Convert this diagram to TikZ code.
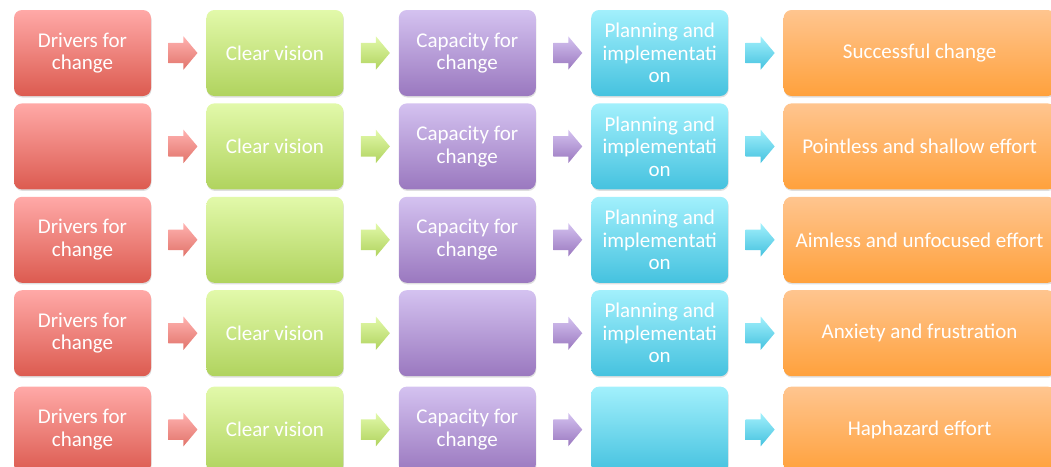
\documentclass[tikz,border=0pt]{standalone}
\usepackage{fontspec}
\setmainfont{Carlito}
\usetikzlibrary{shapes.arrows, positioning, calc, shadows}

\definecolor{drvTop}{HTML}{FFA9A7}
\definecolor{drvBot}{HTML}{DC5B50}
\definecolor{visTop}{HTML}{E2F9AA}
\definecolor{visBot}{HTML}{B0D35E}
\definecolor{capTop}{HTML}{D4C2F0}
\definecolor{capBot}{HTML}{9A78BF}
\definecolor{plnTop}{HTML}{A2F0FC}
\definecolor{plnBot}{HTML}{45C2DF}
\definecolor{resTop}{HTML}{FFC58F}
\definecolor{resBot}{HTML}{FFA13C}

\begin{document}
\begin{tikzpicture}[
      node distance=7pt and 55pt,
      box/.style={
          rectangle,
          rounded corners=8pt,
          align=center,
          minimum width=137pt,
          minimum height=86pt,
          inner sep=2pt,
          text=white,
          font=\fontsize{21}{22.5}\selectfont,
          drop shadow={opacity=0.25, shadow xshift=0.5pt, shadow yshift=-1.5pt}
        },
      drvbox/.style={box, top color=drvTop, bottom color=drvBot},
      visbox/.style={box, top color=visTop, bottom color=visBot},
      capbox/.style={box, top color=capTop, bottom color=capBot},
      plnbox/.style={box, top color=plnTop, bottom color=plnBot},
      resbox/.style={box, minimum width=272pt, top color=resTop, bottom color=resBot},
      arr/.style={
          single arrow,
          minimum height=29pt,
          inner xsep=0pt,
          inner ysep=10pt,
          single arrow head extend=6.5pt,
          single arrow tip angle=100
        },
      arrDrv/.style={arr, top color=drvTop!90!white, bottom color=drvBot!85!white},
      arrVis/.style={arr, top color=visTop, bottom color=visBot},
      arrCap/.style={arr, top color=capTop, bottom color=capBot},
      arrPln/.style={arr, top color=plnTop, bottom color=plnBot}
    ]
    \useasboundingbox (0,0) rectangle (1051pt,-466pt);

    % Row 1
    \node[drvbox] (d1) at (82.5pt,-53pt) {Drivers for\\change};
    \node[visbox, right=of d1] (v1) {Clear vision};
    \node[capbox, right=of v1] (c1) {Capacity for\\change};
    \node[plnbox, right=of c1] (p1) {Planning and\\implementati\\on};
    \node[resbox, right=of p1] (r1) {Successful change};

    % Row 2
    \node[drvbox, below=of d1] (d2) {};
    \node[visbox, right=of d2] (v2) {Clear vision};
    \node[capbox, right=of v2] (c2) {Capacity for\\change};
    \node[plnbox, right=of c2] (p2) {Planning and\\implementati\\on};
    \node[resbox, right=of p2] (r2) {Pointless and shallow effort};

    % Row 3
    \node[drvbox, below=of d2] (d3) {Drivers for\\change};
    \node[visbox, right=of d3] (v3) {};
    \node[capbox, right=of v3] (c3) {Capacity for\\change};
    \node[plnbox, right=of c3] (p3) {Planning and\\implementati\\on};
    \node[resbox, right=of p3] (r3) {Aimless and unfocused effort};

    % Row 4
    \node[drvbox, below=of d3] (d4) {Drivers for\\change};
    \node[visbox, right=of d4] (v4) {Clear vision};
    \node[capbox, right=of v4] (c4) {};
    \node[plnbox, right=of c4] (p4) {Planning and\\implementati\\on};
    \node[resbox, right=of p4] (r4) {Anxiety and frustration};

    % Row 5
    \node[drvbox, below=10pt of d4] (d5) {Drivers for\\change};
    \node[visbox, right=of d5] (v5) {Clear vision};
    \node[capbox, right=of v5] (c5) {Capacity for\\change};
    \node[plnbox, right=of c5] (p5) {};
    \node[resbox, right=of p5] (r5) {Haphazard effort};

    % Arrows
    \node[arrDrv] (a11) at ($(d1.east)!0.5!(v1.west)$) {};
    \node[arrVis] (a12) at ($(v1.east)!0.5!(c1.west)$) {};
    \node[arrCap] (a13) at ($(c1.east)!0.5!(p1.west)$) {};
    \node[arrPln] (a14) at ($(p1.east)!0.5!(r1.west)$) {};

    \node[arrDrv] (a21) at ($(d2.east)!0.5!(v2.west)$) {};
    \node[arrVis] (a22) at ($(v2.east)!0.5!(c2.west)$) {};
    \node[arrCap] (a23) at ($(c2.east)!0.5!(p2.west)$) {};
    \node[arrPln] (a24) at ($(p2.east)!0.5!(r2.west)$) {};

    \node[arrDrv] (a31) at ($(d3.east)!0.5!(v3.west)$) {};
    \node[arrVis] (a32) at ($(v3.east)!0.5!(c3.west)$) {};
    \node[arrCap] (a33) at ($(c3.east)!0.5!(p3.west)$) {};
    \node[arrPln] (a34) at ($(p3.east)!0.5!(r3.west)$) {};

    \node[arrDrv] (a41) at ($(d4.east)!0.5!(v4.west)$) {};
    \node[arrVis] (a42) at ($(v4.east)!0.5!(c4.west)$) {};
    \node[arrCap] (a43) at ($(c4.east)!0.5!(p4.west)$) {};
    \node[arrPln] (a44) at ($(p4.east)!0.5!(r4.west)$) {};

    \node[arrDrv] (a51) at ($(d5.east)!0.5!(v5.west)$) {};
    \node[arrVis] (a52) at ($(v5.east)!0.5!(c5.west)$) {};
    \node[arrCap] (a53) at ($(c5.east)!0.5!(p5.west)$) {};
    \node[arrPln] (a54) at ($(p5.east)!0.5!(r5.west)$) {};

  \end{tikzpicture}
\end{document}
